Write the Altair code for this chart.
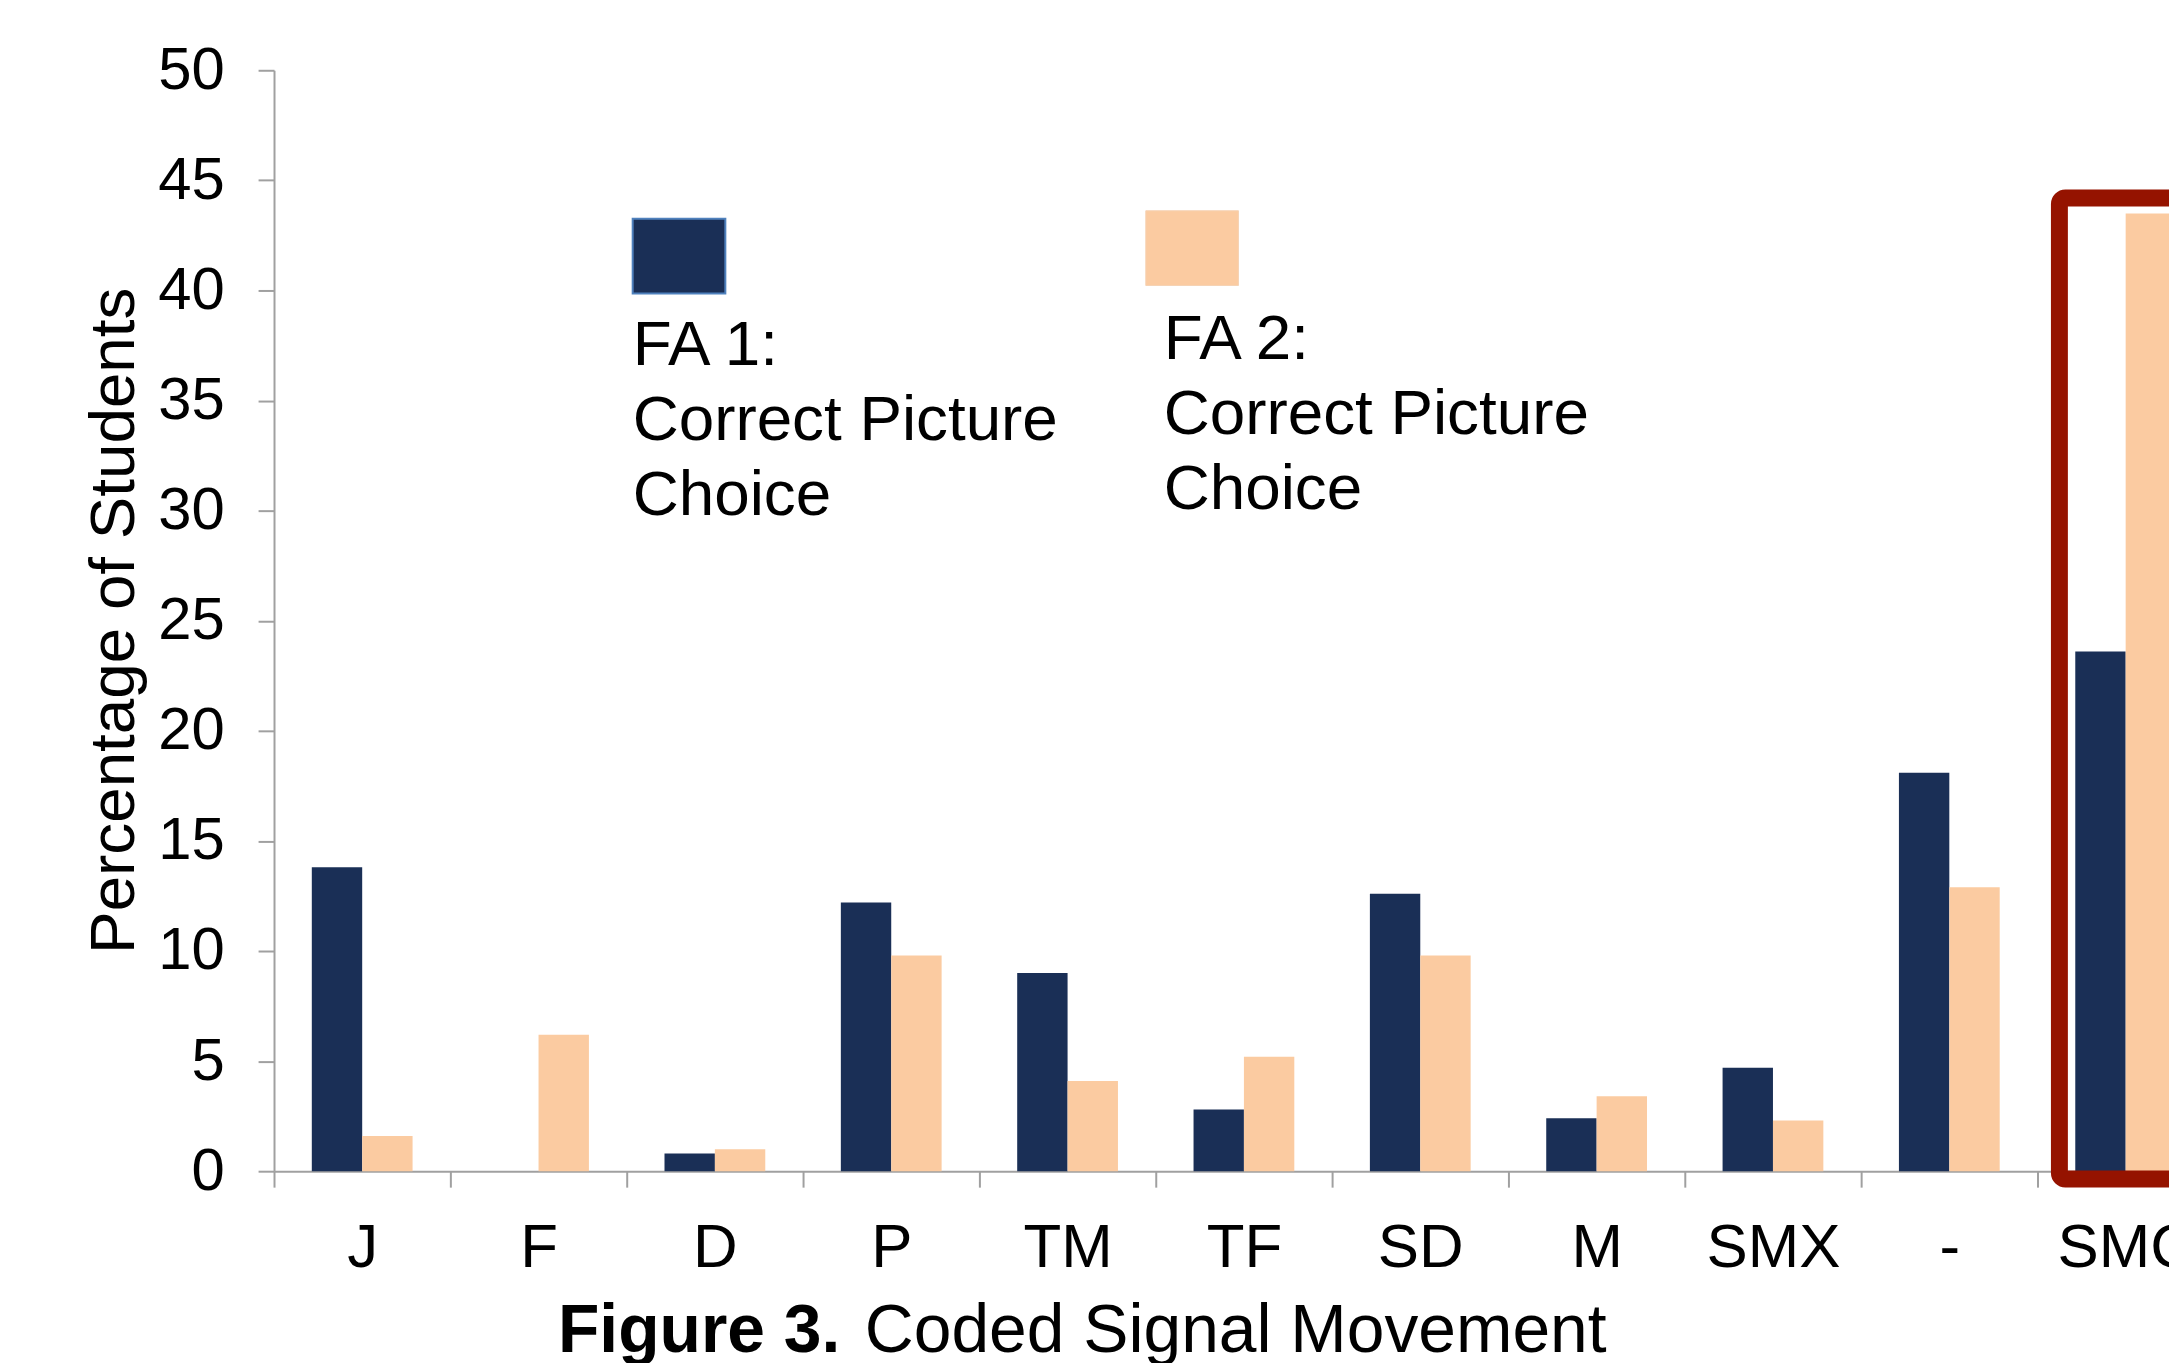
import altair as alt
import pandas as pd

# ---- data ----
categories = ["J", "F", "D", "P", "TM", "TF", "SD", "M", "SMX", "-", "SMC"]
fa1_values = [13.8, 0.0, 0.8, 12.2, 9.0, 2.8, 12.6, 2.4, 4.7, 18.1, 23.6]
fa2_values = [1.6, 6.2, 1.0, 9.8, 4.1, 5.2, 9.8, 3.4, 2.3, 12.9, 43.5]
series = ["FA 1", "FA 2"]
series_colors = ["#1a2f56", "#fbcba1"]
legend_labels = [["FA 1:", "Correct Picture", "Choice"],
                 ["FA 2:", "Correct Picture", "Choice"]]
y_ticks = [0, 5, 10, 15, 20, 25, 30, 35, 40, 45, 50]
highlight_category = ["SMC"]
highlight_top = [44.2]
highlight_bottom = [-0.35]
y_title = "Percentage of Students"
fig_label = "Figure 3."
fig_caption = "Coded Signal Movement"

rows = []
for c, a, b in zip(categories, fa1_values, fa2_values):
    rows.append({"cat": c, "series": series[0], "value": a})
    rows.append({"cat": c, "series": series[1], "value": b})
df = pd.DataFrame(rows)

FONT = "Liberation Sans"
AXIS_GREY = "#a0a0a0"

x_scale = alt.Scale(domain=categories, range=[0, 1947], paddingInner=0, paddingOuter=0)
y_scale = alt.Scale(domain=[0, 50], nice=False)

bars = alt.Chart(df).mark_bar().encode(
    x=alt.X("cat:N", scale=x_scale, sort=categories,
            axis=alt.Axis(title=None, labelAngle=0, tickBand="extent", grid=False,
                          labelFontSize=62, labelFont=FONT, labelColor="black",
                          labelPadding=31, tickSize=16, tickWidth=2, tickColor=AXIS_GREY,
                          domainColor=AXIS_GREY, domainWidth=2, labelBaseline="top")),
    xOffset=alt.XOffset("series:N", scale=alt.Scale(domain=series, paddingInner=0, paddingOuter=0.75)),
    y=alt.Y("value:Q", scale=y_scale,
            axis=alt.Axis(values=y_ticks, grid=False, title=y_title,
                          labelFontSize=60, labelFont=FONT, labelColor="black",
                          labelPadding=34, tickSize=16, tickWidth=2, tickColor=AXIS_GREY,
                          domainColor=AXIS_GREY, domainWidth=2,
                          titleFont=FONT, titleFontSize=64, titleFontWeight="normal",
                          titleColor="black", titleAngle=270, titleX=-141, titleY=552,
                          titleAlign="center", titleBaseline="alphabetic")),
    color=alt.Color("series:N", scale=alt.Scale(domain=series, range=series_colors), legend=None),
)

box_df = pd.DataFrame({"cat": highlight_category, "top": highlight_top, "bottom": highlight_bottom})
box = alt.Chart(box_df).mark_rect(filled=False, stroke="#951300", strokeWidth=17,
                                  cornerRadius=6, xOffset=22).encode(
    x=alt.X("cat:N", scale=x_scale, sort=categories),
    y=alt.Y("top:Q", scale=y_scale),
    y2="bottom:Q",
)

one = pd.DataFrame({"a": [0]})
leg_sq1 = alt.Chart(one).mark_rect(color=series_colors[0], stroke="#4f81bd", strokeWidth=2).encode(
    x=alt.value(360), x2=alt.value(453), y=alt.value(149), y2=alt.value(224))
leg_sq2 = alt.Chart(one).mark_rect(color=series_colors[1], stroke="#f5d2b4", strokeWidth=1).encode(
    x=alt.value(875), x2=alt.value(968), y=alt.value(141), y2=alt.value(216))
leg_t1 = alt.Chart(one).mark_text(align="left", baseline="alphabetic", font=FONT, fontSize=64,
                                  lineHeight=75, color="black", text=legend_labels[0]).encode(
    x=alt.value(360), y=alt.value(296))
leg_t2 = alt.Chart(one).mark_text(align="left", baseline="alphabetic", font=FONT, fontSize=64,
                                  lineHeight=75, color="black", text=legend_labels[1]).encode(
    x=alt.value(893), y=alt.value(290))

cap1 = alt.Chart(one).mark_text(align="left", baseline="alphabetic", font=FONT, fontSize=68,
                                fontWeight="bold", color="black", text=fig_label).encode(
    x=alt.value(285), y=alt.value(1286))
cap2 = alt.Chart(one).mark_text(align="left", baseline="alphabetic", font=FONT, fontSize=68,
                                color="black", text=fig_caption).encode(
    x=alt.value(593), y=alt.value(1286))

chart = alt.layer(bars, box, leg_sq1, leg_sq2, leg_t1, leg_t2, cap1, cap2).properties(
    width=1902, height=1105,
    background="white",
    autosize=alt.AutoSizeParams(type="none"),
    padding={"left": 267, "top": 60, "right": 0, "bottom": 190},
).configure_view(strokeWidth=0, stroke="transparent")

chart.save("out.html", embed_options={"renderer": "svg", "actions": False})
